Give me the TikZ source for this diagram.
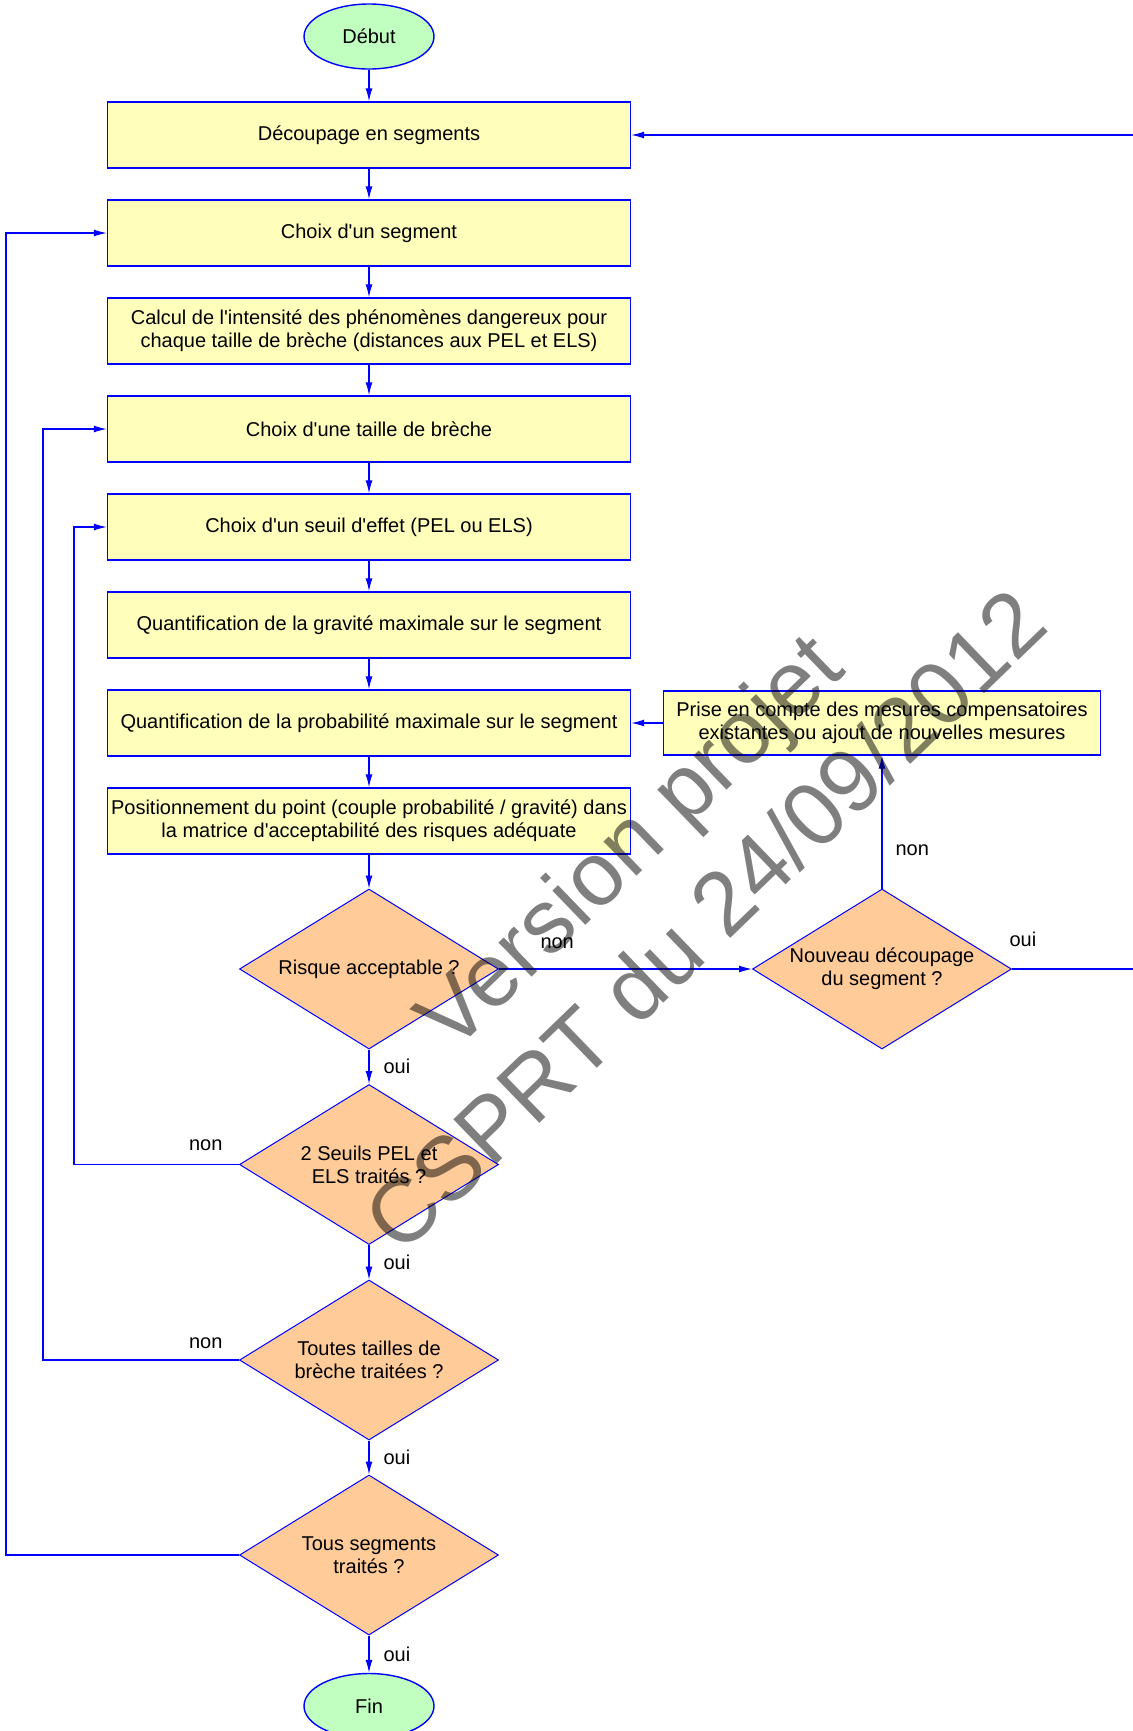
\documentclass[tikz,border=0pt]{standalone}
\usepackage{fontspec}
\setmainfont{Liberation Sans}[Ligatures=TeXOff]
\usetikzlibrary{positioning}
\usetikzlibrary{shapes.geometric,arrows.meta}
\definecolor{stepYellow}{RGB}{255,255,187}
\definecolor{testOrange}{RGB}{255,204,153}
\definecolor{endGreen}{RGB}{192,255,192}
\definecolor{flowBlue}{RGB}{0,0,255}
\tikzset{%
  stepBox/.style={rectangle, draw=flowBlue, fill=stepYellow, line width=0.7pt, minimum width=261.5pt, minimum height=33pt, inner xsep=1.5pt, align=center, font=\fontsize{10}{11.5}\selectfont},
  measureBox/.style={stepBox, minimum width=218.5pt, minimum height=32pt},
  % ---
  % tests
  % ---
  test/.style={diamond, draw=flowBlue, fill=testOrange, line width=0.5pt, minimum width=129.5pt, minimum height=80pt, aspect=1.62, inner sep=0pt, align=center, font=\fontsize{10}{11.5}\selectfont},
  terminal/.style={ellipse, draw=flowBlue, fill=endGreen, line width=0.7pt, minimum width=65pt, minimum height=32.5pt, font=\fontsize{10}{11.5}\selectfont},
  % ---
  flow/.style={draw=flowBlue, line width=0.6pt, -{Latex[length=6.5pt,width=3.5pt]}},
  answer/.style={inner sep=0pt, font=\fontsize{10}{11.5}\selectfont},
  watermark/.style={align=center, text=black, text opacity=0.5, font=\fontsize{45}{55}\selectfont}
}

\begin{document}
\begin{tikzpicture}[x=50pt,y=-50pt]
    \useasboundingbox (0,0) rectangle (11.32,17.31);

    \node[terminal] (debut) at (3.69,0.365) {Début};

    \node[stepBox] (decoupage) at (3.69,1.35) {Découpage en segments};
    \node[stepBox] (segment) at (3.69,2.33) {Choix d'un segment};
    \node[stepBox] (calcul) at (3.69,3.31) {Calcul de l'intensité des phénomènes dangereux pour\\chaque taille de brèche (distances aux PEL et ELS)};
    \node[stepBox] (taille) at (3.69,4.29) {Choix d'une taille de brèche};
    \node[stepBox] (seuil) at (3.69,5.27) {Choix d'un seuil d'effet (PEL ou ELS)};
    \node[stepBox] (gravite) at (3.69,6.25) {Quantification de la gravité maximale sur le segment};
    \node[stepBox] (proba) at (3.69,7.23) {Quantification de la probabilité maximale sur le segment};
    \node[stepBox] (matrice) at (3.69,8.21) {Positionnement du point (couple probabilité / gravité) dans\\la matrice d'acceptabilité des risques adéquate};

    \node[measureBox] (mesures) at (8.82,7.23) {Prise en compte des mesures compensatoires\\existantes ou ajout de nouvelles mesures};

    \node[test] (acceptable) at (3.69,9.69) {Risque acceptable ?};
    \node[test] (nouveau) at (8.82,9.69) {Nouveau découpage\\du segment ?};
    \node[test] (seuils) at (3.69,11.645) {2 Seuils PEL et\\ELS traités ?};
    \node[test] (tailles) at (3.69,13.60) {Toutes tailles de\\brèche traitées ?};
    \node[test] (segments) at (3.69,15.55) {Tous segments\\traités ?};

    \node[terminal] (fin) at (3.69,17.06) {Fin};

    \coordinate (bordDroit) at (11.6,9.69);

    \draw[flow] (debut) -- (decoupage);
    \draw[flow] (decoupage) -- (segment);
    \draw[flow] (segment) -- (calcul);
    \draw[flow] (calcul) -- (taille);
    \draw[flow] (taille) -- (seuil);
    \draw[flow] (seuil) -- (gravite);
    \draw[flow] (gravite) -- (proba);
    \draw[flow] (proba) -- (matrice);
    \draw[flow] (matrice) -- (acceptable);

    \draw[flow] (acceptable) -- node[answer, right=7pt]{oui} (seuils);
    \draw[flow] (seuils) -- node[answer, right=7pt]{oui} (tailles);
    \draw[flow] (tailles) -- node[answer, right=7pt]{oui} (segments);
    \draw[flow] (segments) -- node[answer, right=7pt]{oui} (fin);

    \draw[flow] (acceptable.east) -- node[answer, pos=0.23, above=10pt]{non} (nouveau.west);
    \draw[flow] (nouveau.north) -- node[answer, pos=0.29, right=6.5pt]{non} (mesures.south);
    \draw[flow] (mesures.west) -- (proba.east);
    \draw[flow] (nouveau.east) node[answer, above right=11pt and -1.5pt]{oui} -- (bordDroit) |- (decoupage.east);

    \draw[flow] (seuils.west) node[answer, above left=6.5pt and 8pt]{non} -- ++(-1.65,0) |- (seuil.west);
    \draw[flow] (tailles.west) node[answer, above left=5.5pt and 8pt]{non} -- ++(-1.96,0) |- (taille.west);
    \draw[flow] (segments.west) -- ++(-2.33,0) |- (segment.west);

    \node[watermark, rotate=44] (filigrane) at (6.66,8.80) {Version projet\\CSPRT du 24/09/2012};
  \end{tikzpicture}
\end{document}
